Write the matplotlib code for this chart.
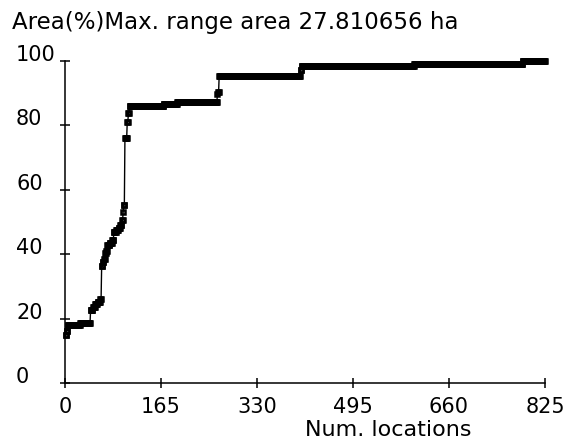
import numpy as np
import matplotlib
matplotlib.use("Agg")
import matplotlib.pyplot as plt

# cumulative range area (%) by number of locations, stored as step breakpoints:
# from each location in loc_breaks onward the area holds the matching value
loc_breaks = [1, 3, 5, 26, 44, 48, 52, 56, 61, 63, 65, 67, 69, 71,
              73, 77, 81, 84, 88, 92, 95, 98, 100, 101, 103, 107, 109,
              111, 170, 193, 262, 263, 265, 405, 407, 600, 787]
area_pct = [14.8, 16.2, 18.0, 18.6, 22.6, 23.6, 24.4, 25.2, 26.0, 36.2,
            37.6, 38.6, 40.3, 41.0, 43.0, 43.6, 44.3, 47.0, 47.6, 48.2,
            49.0, 50.6, 53.2, 55.3, 76.0, 81.2, 83.8, 86.1, 86.7, 87.3,
            89.6, 90.4, 95.4, 97.2, 98.5, 99.1, 100.0]
n_locations = 825
max_area_ha = 27.810656

x_ticks = [0, 165, 330, 495, 660, 825]
y_ticks = [0, 20, 40, 60, 80, 100]

locs = np.arange(1, n_locations + 1)
idx = np.searchsorted(loc_breaks, locs, side="right") - 1
area = np.asarray(area_pct)[idx]

fig = plt.figure(figsize=(5.76, 4.41), dpi=100)
ax = fig.add_axes([65 / 576, 58 / 441, 480 / 576, 322 / 441])

ax.plot(locs, area, color="black", linewidth=1.0, marker="s",
        markersize=3.5, markerfacecolor="none", markeredgecolor="black",
        markeredgewidth=1.8, clip_on=False)

ax.set_xlim(0, n_locations)
ax.set_ylim(0, 100)
for side in ("top", "right"):
    ax.spines[side].set_visible(False)
for side in ("left", "bottom"):
    ax.spines[side].set_linewidth(1.1)

ax.set_xticks(x_ticks, [str(v) for v in x_ticks])
ax.set_yticks(y_ticks, [str(v) for v in y_ticks])
ax.tick_params(direction="inout", length=6.5, width=1.1, labelsize=15)
ax.tick_params(axis="x", pad=6.5)
ax.tick_params(axis="y", pad=32)
for lab in ax.get_yticklabels():
    lab.set_horizontalalignment("left")
    lab.set_verticalalignment("baseline")

fig.text(12 / 576, 1 - 29 / 441,
         f"Area(%)Max. range area {max_area_ha:.6f} ha",
         fontsize=16.5, ha="left", va="baseline")
fig.text(0.5 * (65 + 545) / 576, 1 / 441, "Num. locations",
         fontsize=16, ha="left", va="bottom")

fig.savefig("out.png", dpi=100)
